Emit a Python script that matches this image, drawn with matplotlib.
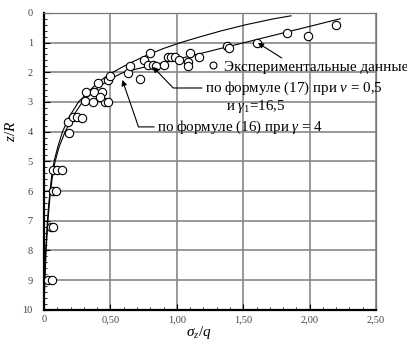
import numpy as np
import matplotlib
matplotlib.use("Agg")
from matplotlib import pyplot as plt
from matplotlib.lines import Line2D

plt.rcParams['font.family'] = 'serif'
plt.rcParams['font.serif'] = ['Liberation Serif', 'DejaVu Serif']
plt.rcParams['mathtext.fontset'] = 'custom'
plt.rcParams['mathtext.rm'] = 'Liberation Serif'
plt.rcParams['mathtext.it'] = 'Liberation Serif:italic'

#----- experimental points (sigma_z/q, z/R) -----#
exp_s = [0.03, 0.06, 0.05, 0.07, 0.07, 0.09, 0.07, 0.10, 0.135, 0.19,
         0.18, 0.22, 0.25, 0.29, 0.31, 0.37, 0.46, 0.48, 0.32, 0.38,
         0.44, 0.42, 0.41, 0.48, 0.50, 0.63, 0.65, 0.72, 0.75, 0.80,
         0.78, 0.82, 0.84, 0.90, 0.935, 0.96, 0.99, 1.02, 1.085, 1.085,
         1.10, 1.17, 1.38, 1.39, 1.60, 1.83, 1.99, 2.20]
exp_z = [9.0, 9.0, 7.2, 7.2, 6.0, 6.0, 5.3, 5.3, 5.3, 4.03,
         3.67, 3.5, 3.5, 3.53, 2.97, 3.0, 3.0, 3.0, 2.66, 2.66,
         2.66, 2.83, 2.36, 2.26, 2.12, 2.02, 1.78, 2.24, 1.6, 1.36,
         1.75, 1.75, 1.8, 1.75, 1.5, 1.5, 1.47, 1.6, 1.65, 1.78,
         1.35, 1.48, 1.1, 1.2, 1.0, 0.67, 0.77, 0.4]

#----- theoretical curves -----#
# formula (16), gamma = 4
f16_z = [10, 9, 8, 7, 6.5, 6, 5.5, 5, 4.5, 4, 3.5, 3, 2.5, 2.2, 2.0,
         1.8, 1.6, 1.4, 1.2, 1.0, 0.8, 0.6, 0.4, 0.2, 0.1]
f16_s = [0, 0.005, 0.013, 0.026, 0.035, 0.045, 0.058, 0.076, 0.105, 0.14, 0.19, 0.26, 0.37, 0.45, 0.52,
         0.60, 0.69, 0.79, 0.90, 1.03, 1.18, 1.34, 1.52, 1.73, 1.86]
# formula (17), nu = 0.5, gamma1 = 16.5
f17_z = [10, 9, 8, 7, 6.5, 6, 5.5, 5, 4.5, 4, 3.5, 3, 2.5, 2.2, 2.0,
         1.8, 1.6, 1.4, 1.2, 1.0, 0.8, 0.6, 0.4, 0.2]
f17_s = [0, 0.007, 0.016, 0.03, 0.039, 0.05, 0.064, 0.084, 0.115, 0.16, 0.215, 0.29, 0.41, 0.51, 0.60,
         0.78, 0.97, 1.15, 1.33, 1.51, 1.69, 1.87, 2.05, 2.23]

x_ticks = [0, 0.5, 1.0, 1.5, 2.0, 2.5]
x_labels = ['0', '0,50', '1,00', '1,50', '2,00', '2,50']
y_ticks = list(range(0, 11))

fig = plt.figure(figsize=(4.07, 3.47), dpi=100)
ax = fig.add_axes([0.108, 0.107, 0.816, 0.856])

ax.plot(f16_s, f16_z, color='black', lw=0.8, zorder=2)
ax.plot(f17_s, f17_z, color='black', lw=0.8, zorder=2)
ax.plot(exp_s, exp_z, 'o', mfc='white', mec='black', ms=6, mew=0.8, zorder=3)

ax.set_xlim(0, 2.5)
ax.set_ylim(10, 0)
ax.set_xticks(x_ticks)
ax.set_xticklabels(x_labels)
ax.set_yticks(y_ticks)
ax.set_xticks(np.arange(0, 2.51, 0.1), minor=True)
ax.set_yticks(np.arange(0, 10.01, 0.2), minor=True)
ax.tick_params(which='both', direction='in', labelsize=7.5, colors='black')
ax.tick_params(axis='x', which='major', length=4, pad=4)
ax.tick_params(axis='y', which='major', length=4, pad=8)
ax.tick_params(which='minor', length=2.5)
ax.tick_params(axis='both', labelcolor='#444444')
ax.grid(True, which='major', color='#888888', lw=1.2)

for s in ['left', 'bottom']:
    ax.spines[s].set_linewidth(1.6)
for s in ['top', 'right']:
    ax.spines[s].set_linewidth(0.9)
    ax.spines[s].set_color('#777777')

ax.set_xlabel('$\\sigma_z/q$', fontsize=11, va='center')
ax.set_ylabel('$z/R$', fontsize=11, va='center')
ax.xaxis.set_label_coords(0.467, -0.077)
ax.yaxis.set_label_coords(-0.099, 0.60)

arrow = dict(arrowstyle='-|>', color='black', lw=0.8, mutation_scale=8, shrinkA=0, shrinkB=0)

# experimental data marker + label
h = Line2D([], [], ls='none', marker='o', mfc='white', mec='black', ms=5, mew=0.8)
ax.legend([h], ['Экспериментальные данные'], loc='center left', bbox_to_anchor=(0.491, 0.818),
          frameon=False, handlelength=0.8, handletextpad=0.3, borderpad=0, borderaxespad=0,
          fontsize=10.9)
ax.annotate('', xy=(1.61, 1.01), xytext=(1.79, 1.52), arrowprops=arrow)

a17 = dict(arrow, connectionstyle='angle,angleA=0,angleB=134,rad=0', relpos=(0, 0.5))
ax.annotate('по формуле (17) при $\\nu$ = 0,5', xy=(0.82, 1.82), xytext=(1.21, 2.53),
            va='center', ha='left', fontsize=10.8, arrowprops=a17)
ax.text(1.37, 3.17, 'и $\\gamma_1$=16,5', va='center', ha='left', fontsize=10.8)

a16 = dict(arrow, connectionstyle='angle,angleA=0,angleB=109,rad=0', relpos=(0, 0.5))
ax.annotate('по формуле (16) при $\\gamma$ = 4', xy=(0.59, 2.26), xytext=(0.85, 3.84),
            va='center', ha='left', fontsize=10.8, arrowprops=a16)

fig.savefig('out.png', dpi=100)
